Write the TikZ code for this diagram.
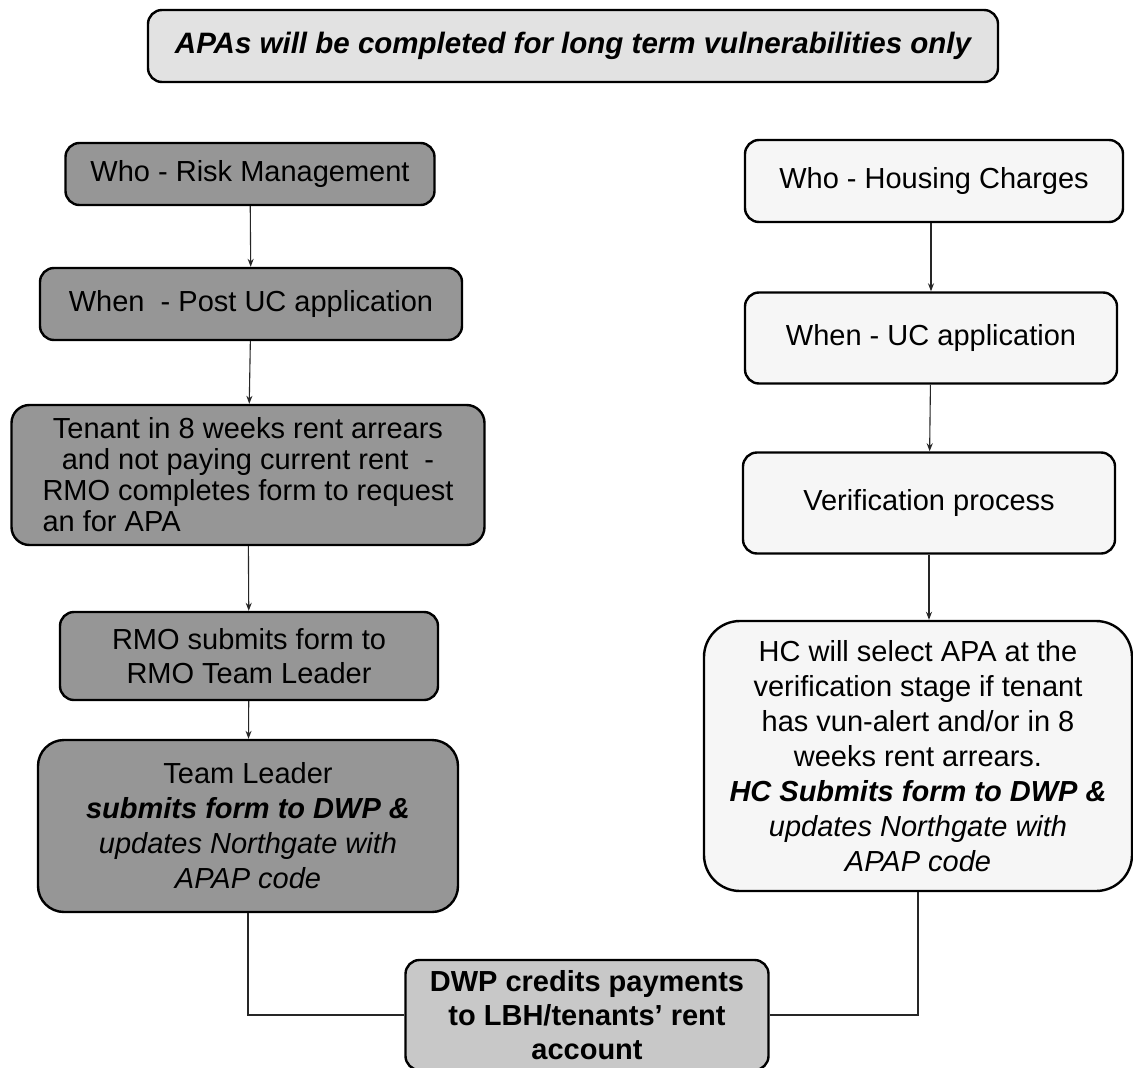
\documentclass[tikz,border=0pt]{standalone}
\usepackage{fontspec}
\setmainfont{Liberation Sans}
\usepackage{calc}
\usetikzlibrary{arrows.meta}
\definecolor{darkbox}{RGB}{150,150,150}
\definecolor{bannerbox}{RGB}{226,226,226}
\definecolor{creditbox}{RGB}{200,200,200}
\definecolor{lightbox}{RGB}{246,246,246}
\tikzset{
  box/.style={draw=black, line width=2.4pt, rounded corners=14pt, align=center,
    inner sep=0pt, font=\fontsize{29}{34}\selectfont},
  riskbox/.style={box, fill=darkbox},
  chargebox/.style={box, fill=lightbox},
  link/.style={line width=1.1pt, draw=black!85},
  tip/.style={link, -{Stealth[length=8pt,width=6pt]}}
}
\begin{document}
\begin{tikzpicture}[x=1pt,y=-1pt]
\useasboundingbox[fill=white] (0,0) rectangle (1133,1068);

% heading banner
\node[box, fill=bannerbox, minimum width=850pt, minimum height=72pt,
      font=\fontsize{29.5}{34}\selectfont\bfseries\itshape] (banner) at (573,46)
  {APAs will be completed for long term vulnerabilities only};

% Risk Management column
\node[riskbox, minimum width=369pt, minimum height=62pt] (who1) at (250,174)
  {Who - Risk Management};
\node[riskbox, minimum width=422pt, minimum height=72pt] (when1) at (251,304)
  {When \ - Post UC application};
\node[riskbox, minimum width=473pt, minimum height=140pt, rounded corners=18pt,
      font=\fontsize{29}{31}\selectfont] (tenant) at (248,475)
  {Tenant in 8 weeks rent arrears\\
   and not paying current rent \ -\\
   RMO completes form to request\\
   \makebox[\widthof{RMO completes form to request}][l]{an for APA}};
\node[riskbox, minimum width=378pt, minimum height=88pt] (submit) at (249,656)
  {RMO submits form to\\ RMO Team Leader};
\node[riskbox, minimum width=420pt, minimum height=172pt, rounded corners=26pt,
      font=\fontsize{29}{35}\selectfont] (leader) at (248,826)
  {Team Leader\\
   \textbf{\textit{submits form to DWP \&}}\\
   \textit{updates Northgate with}\\
   \textit{APAP code}};

% Housing Charges column
\node[chargebox, minimum width=378pt, minimum height=82pt] (who2) at (934,181)
  {Who - Housing Charges};
\node[chargebox, minimum width=372pt, minimum height=91pt] (when2) at (931,338)
  {When - UC application};
\node[chargebox, minimum width=372pt, minimum height=101pt] (verify) at (929,503)
  {Verification process};
\node[chargebox, minimum width=428pt, minimum height=270pt, rounded corners=36pt,
      font=\fontsize{29}{35}\selectfont] (select) at (918,756)
  {HC will select APA at the\\
   verification stage if tenant\\
   has vun-alert and/or in 8\\
   weeks rent arrears.\\
   \textbf{\textit{HC Submits form to DWP \&}}\\
   \textit{updates Northgate with}\\
   \textit{APAP code}};

% shared outcome
\node[box, fill=creditbox, minimum width=363pt, minimum height=110pt,
      font=\fontsize{29}{34}\selectfont\bfseries] (credit) at (587,1015)
  {DWP credits payments\\ to LBH/tenants' rent\\ account};

% connectors
\draw[tip] (who1) -- (when1);
\draw[tip] (when1) -- (tenant);
\draw[tip] (tenant) -- (submit);
\draw[tip] (submit) -- (leader);
\draw[tip] (who2.south -| when2) -- (when2);
\draw[tip] (when2) -- (verify);
\draw[tip] (verify.south) -- (verify.south |- select.north);
\draw[link] (leader.south) |- (credit.west);
\draw[link] (select.south) |- (credit.east);
\end{tikzpicture}
\end{document}
